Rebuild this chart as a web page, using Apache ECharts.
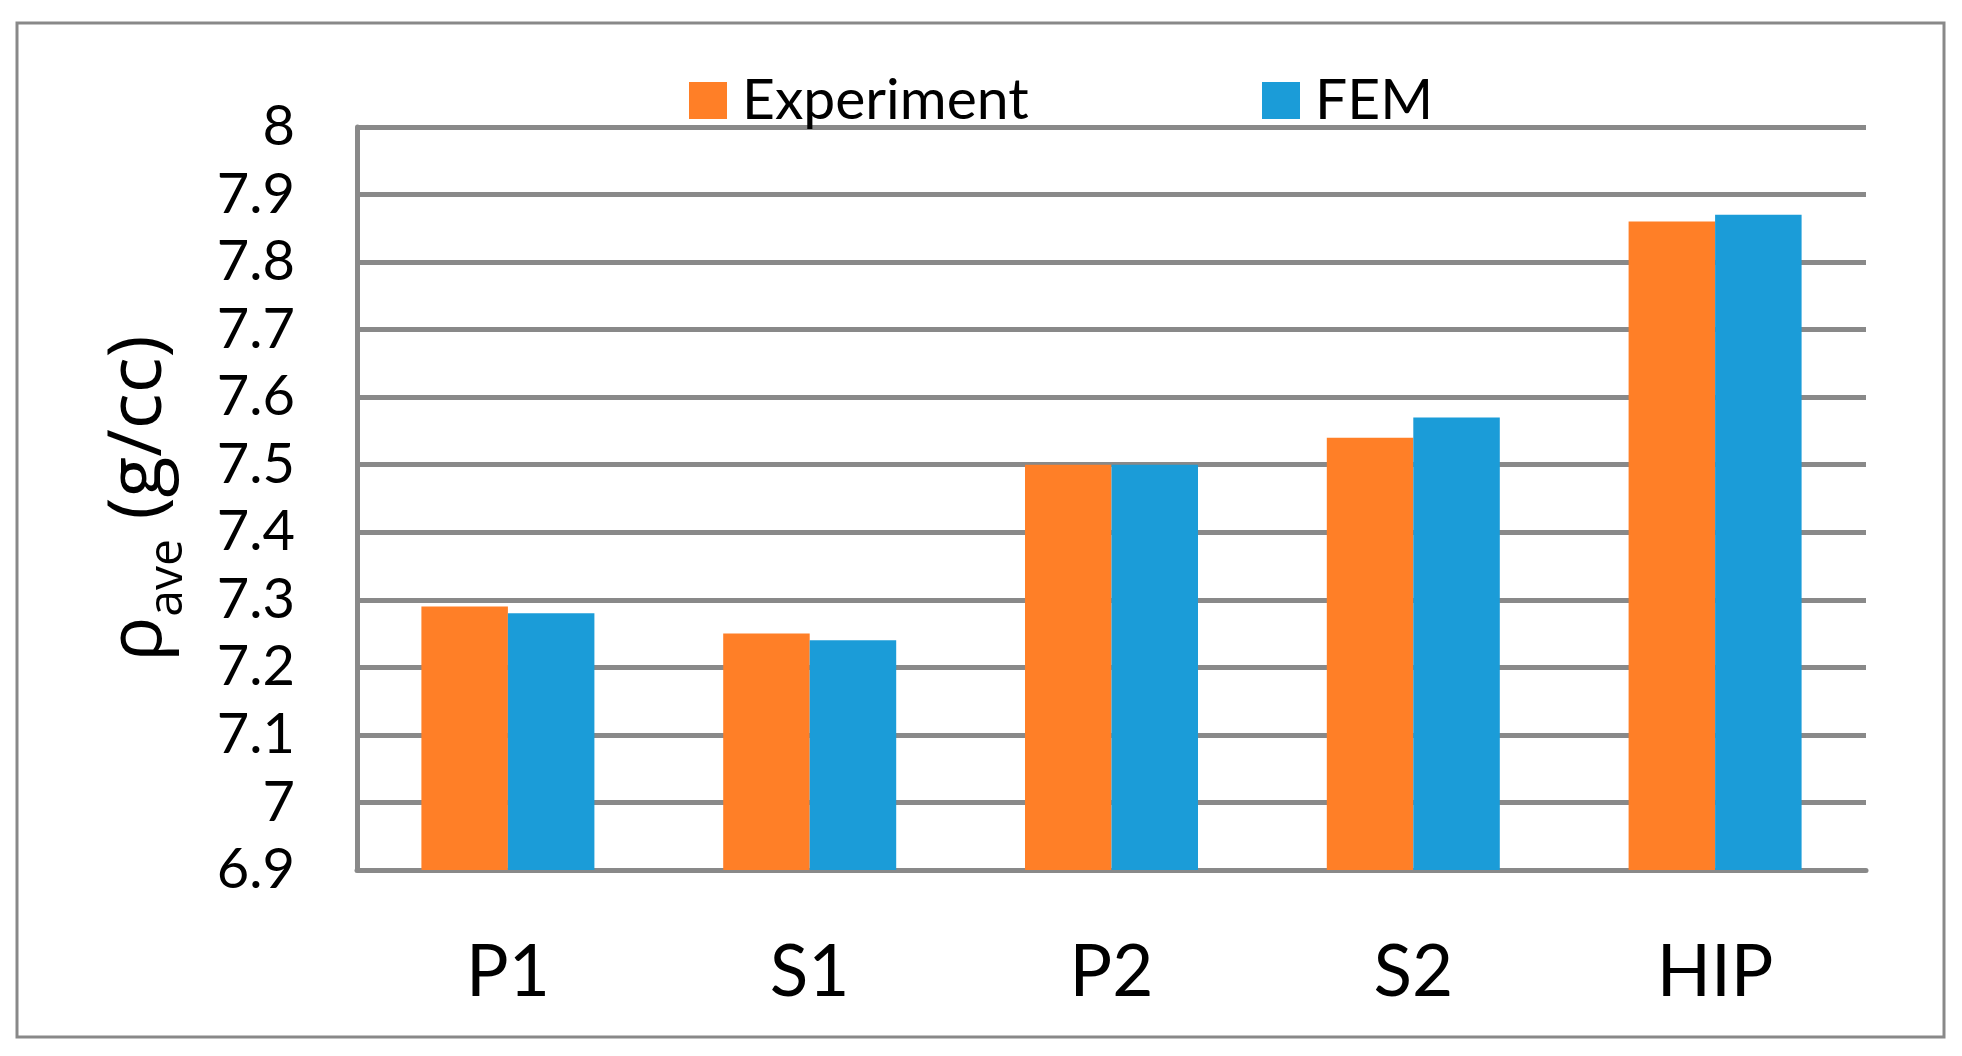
<!DOCTYPE html>
<html>
<head>
<meta charset="utf-8">
<style>
html,body{margin:0;padding:0;background:#fff;}
#chart{width:1962px;height:1056px;}
</style>
<script src="https://cdn.jsdelivr.net/npm/echarts@6/dist/echarts.min.js"></script>
</head>
<body>
<div id="chart"></div>
<script>
var categories = ['P1', 'S1', 'P2', 'S2', 'HIP'];
var experiment = [7.29, 7.25, 7.50, 7.54, 7.86];
var fem = [7.28, 7.24, 7.50, 7.57, 7.87];
var seriesNames = ['Experiment', 'FEM'];

var gray = '#898989';
var chart = echarts.init(document.getElementById('chart'));
chart.setOption({
  animation: false,
  backgroundColor: '#fff',
  graphic: [{
    type: 'rect',
    shape: {x: 17, y: 23, width: 1927, height: 1014},
    style: {fill: 'none', stroke: gray, lineWidth: 3},
    silent: true
  }],
  legend: [{
    data: [seriesNames[0]],
    left: 684, top: 67,
    itemWidth: 38, itemHeight: 37,
    icon: 'rect',
    textStyle: {fontFamily: 'Lato', fontSize: 57, color: '#000', padding: [0, 0, 0, 10]}
  }, {
    data: [seriesNames[1]],
    left: 1257, top: 67,
    itemWidth: 38, itemHeight: 37,
    icon: 'rect',
    textStyle: {fontFamily: 'Lato', fontSize: 57, color: '#000', padding: [0, 0, 0, 10]}
  }],
  grid: {left: 357, right: 96, top: 127, bottom: 186, containLabel: false},
  xAxis: {
    type: 'category',
    data: categories,
    axisLine: {show: true, lineStyle: {color: gray, width: 5}},
    axisTick: {show: false},
    axisLabel: {fontFamily: 'Lato', fontSize: 71, color: '#000', margin: 68}
  },
  yAxis: {
    type: 'value',
    min: 6.9, max: 8, interval: 0.1,
    name: '{r|ρ}{s|ave}{r| (g/cc)}',
    nameLocation: 'middle',
    nameRotate: 90,
    nameGap: 165,
    nameTextStyle: {
      rich: {
        r: {fontFamily: 'Open Sans', fontSize: 75, color: '#000', lineHeight: 105, verticalAlign: 'middle'},
        s: {fontFamily: 'Open Sans', fontSize: 48, color: '#000', lineHeight: 105, verticalAlign: 'bottom'}
      }
    },
    axisLine: {show: true, lineStyle: {color: gray, width: 5}},
    axisTick: {show: false},
    axisLabel: {
      fontFamily: 'Lato', fontSize: 56, color: '#000', margin: 62,
      formatter: function (v) { return String(+v.toFixed(1)); }
    },
    splitLine: {show: true, lineStyle: {color: gray, width: 5}}
  },
  series: [{
    name: seriesNames[0],
    type: 'bar',
    data: experiment,
    barWidth: 86.5,
    barGap: '0%',
    itemStyle: {color: '#FF7F27'}
  }, {
    name: seriesNames[1],
    type: 'bar',
    data: fem,
    barWidth: 86.5,
    barGap: '0%',
    itemStyle: {color: '#1B9CD8'}
  }]
});
</script>
</body>
</html>
